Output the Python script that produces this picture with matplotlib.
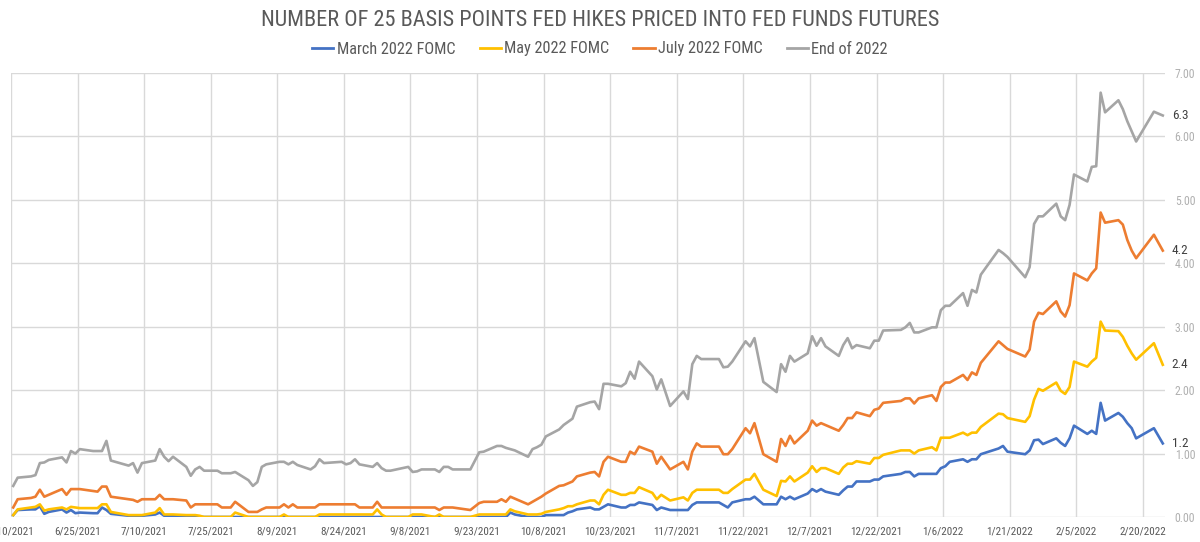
import matplotlib
matplotlib.use("Agg")
import matplotlib.pyplot as plt
from matplotlib import font_manager as fm
from matplotlib.lines import Line2D
import pandas as pd

# ---------------- data ----------------
dates = [
    "2021-06-10", "2021-06-11", "2021-06-14", "2021-06-15", "2021-06-16", "2021-06-17", "2021-06-18",
    "2021-06-21", "2021-06-22", "2021-06-23", "2021-06-24", "2021-06-25", "2021-06-28", "2021-06-29",
    "2021-06-30", "2021-07-01", "2021-07-02", "2021-07-06", "2021-07-07", "2021-07-08", "2021-07-09",
    "2021-07-12", "2021-07-13", "2021-07-14", "2021-07-15", "2021-07-16", "2021-07-19", "2021-07-20",
    "2021-07-21", "2021-07-22", "2021-07-23", "2021-07-26", "2021-07-27", "2021-07-29", "2021-07-30",
    "2021-08-02", "2021-08-03", "2021-08-04", "2021-08-05", "2021-08-06", "2021-08-09", "2021-08-10",
    "2021-08-11", "2021-08-12", "2021-08-13", "2021-08-16", "2021-08-17", "2021-08-18", "2021-08-19",
    "2021-08-23", "2021-08-24", "2021-08-25", "2021-08-26", "2021-08-27", "2021-08-30", "2021-08-31",
    "2021-09-01", "2021-09-02", "2021-09-03", "2021-09-07", "2021-09-08", "2021-09-09", "2021-09-10",
    "2021-09-13", "2021-09-14", "2021-09-15", "2021-09-16", "2021-09-17", "2021-09-21", "2021-09-23",
    "2021-09-24", "2021-09-27", "2021-09-28", "2021-09-29", "2021-09-30", "2021-10-01", "2021-10-04",
    "2021-10-05", "2021-10-06", "2021-10-07", "2021-10-08", "2021-10-11", "2021-10-12", "2021-10-13",
    "2021-10-14", "2021-10-15", "2021-10-18", "2021-10-19", "2021-10-20", "2021-10-21", "2021-10-22",
    "2021-10-25", "2021-10-26", "2021-10-27", "2021-10-28", "2021-10-29", "2021-11-01", "2021-11-02",
    "2021-11-03", "2021-11-05", "2021-11-08", "2021-11-09", "2021-11-10", "2021-11-11", "2021-11-12",
    "2021-11-16", "2021-11-17", "2021-11-18", "2021-11-19", "2021-11-22", "2021-11-23", "2021-11-24",
    "2021-11-26", "2021-11-29", "2021-11-30", "2021-12-01", "2021-12-02", "2021-12-03", "2021-12-06",
    "2021-12-07", "2021-12-08", "2021-12-09", "2021-12-10", "2021-12-13", "2021-12-14", "2021-12-15",
    "2021-12-16", "2021-12-17", "2021-12-20", "2021-12-21", "2021-12-22", "2021-12-23", "2021-12-27",
    "2021-12-28", "2021-12-29", "2021-12-30", "2021-12-31", "2022-01-03", "2022-01-04", "2022-01-05",
    "2022-01-06", "2022-01-07", "2022-01-10", "2022-01-11", "2022-01-12", "2022-01-13", "2022-01-14",
    "2022-01-18", "2022-01-19", "2022-01-20", "2022-01-24", "2022-01-25", "2022-01-26", "2022-01-27",
    "2022-01-28", "2022-01-31", "2022-02-01", "2022-02-02", "2022-02-03", "2022-02-04", "2022-02-07",
    "2022-02-08", "2022-02-09", "2022-02-10", "2022-02-11", "2022-02-14", "2022-02-15", "2022-02-16",
    "2022-02-17", "2022-02-18", "2022-02-22", "2022-02-24",
]

march_2022 = [
    0.03, 0.11, 0.12, 0.12, 0.17, 0.05, 0.08, 0.12, 0.07, 0.11, 0.06, 0.07, 0.06, 0.06,
    0.15, 0.11, 0.05, 0.02, 0.02, 0.00, 0.02, 0.04, 0.07, 0.02, 0.02, 0.02, 0.00, 0.00,
    0.00, 0.00, 0.00, 0.00, 0.00, 0.00, 0.00, 0.00, 0.00, 0.00, 0.00, 0.00, 0.00, 0.00,
    0.00, 0.00, 0.00, 0.00, 0.00, 0.00, 0.00, 0.00, 0.00, 0.00, 0.00, 0.00, 0.00, 0.00,
    0.00, 0.00, 0.00, 0.00, 0.00, 0.00, 0.00, 0.00, 0.00, 0.00, 0.00, 0.00, 0.00, 0.00,
    0.00, 0.00, 0.00, 0.00, 0.07, 0.04, 0.00, 0.00, 0.00, 0.00, 0.03, 0.03, 0.03, 0.07,
    0.09, 0.12, 0.15, 0.12, 0.12, 0.16, 0.20, 0.15, 0.15, 0.19, 0.19, 0.23, 0.19, 0.11,
    0.15, 0.11, 0.11, 0.11, 0.19, 0.23, 0.23, 0.23, 0.19, 0.15, 0.23, 0.28, 0.28, 0.32,
    0.20, 0.20, 0.32, 0.28, 0.32, 0.28, 0.37, 0.44, 0.40, 0.44, 0.40, 0.35, 0.42, 0.48,
    0.48, 0.56, 0.56, 0.59, 0.59, 0.64, 0.68, 0.71, 0.71, 0.64, 0.68, 0.68, 0.68, 0.77,
    0.80, 0.87, 0.91, 0.87, 0.91, 0.91, 0.99, 1.08, 1.12, 1.03, 0.99, 1.05, 1.21, 1.22,
    1.15, 1.24, 1.17, 1.12, 1.24, 1.44, 1.31, 1.36, 1.31, 1.80, 1.52, 1.64, 1.58, 1.48,
    1.40, 1.24, 1.40, 1.16,
]

may_2022 = [
    0.03, 0.12, 0.15, 0.16, 0.20, 0.10, 0.12, 0.15, 0.12, 0.16, 0.15, 0.14, 0.14, 0.14,
    0.20, 0.20, 0.08, 0.03, 0.03, 0.03, 0.03, 0.07, 0.14, 0.04, 0.04, 0.04, 0.03, 0.03,
    0.03, 0.02, 0.00, 0.00, 0.00, 0.00, 0.07, 0.00, 0.00, 0.00, 0.00, 0.00, 0.00, 0.04,
    0.00, 0.00, 0.00, 0.00, 0.00, 0.04, 0.04, 0.04, 0.04, 0.04, 0.04, 0.04, 0.04, 0.12,
    0.04, 0.00, 0.00, 0.00, 0.04, 0.04, 0.04, 0.00, 0.04, 0.00, 0.00, 0.00, 0.00, 0.04,
    0.04, 0.04, 0.04, 0.04, 0.12, 0.09, 0.04, 0.04, 0.04, 0.05, 0.08, 0.12, 0.14, 0.17,
    0.17, 0.20, 0.26, 0.26, 0.20, 0.35, 0.43, 0.35, 0.35, 0.38, 0.38, 0.47, 0.38, 0.28,
    0.35, 0.26, 0.31, 0.26, 0.38, 0.43, 0.43, 0.43, 0.38, 0.38, 0.44, 0.59, 0.59, 0.68,
    0.43, 0.33, 0.57, 0.56, 0.64, 0.56, 0.70, 0.80, 0.71, 0.77, 0.77, 0.68, 0.78, 0.84,
    0.84, 0.88, 0.84, 0.93, 0.93, 0.98, 1.05, 1.05, 1.05, 1.00, 1.05, 1.10, 1.05, 1.25,
    1.25, 1.25, 1.33, 1.29, 1.33, 1.33, 1.42, 1.63, 1.62, 1.56, 1.50, 1.59, 1.85, 2.02,
    1.99, 2.12, 1.99, 1.94, 2.05, 2.45, 2.37, 2.45, 2.51, 3.08, 2.94, 2.93, 2.84, 2.70,
    2.58, 2.48, 2.74, 2.40,
]

july_2022 = [
    0.15, 0.28, 0.30, 0.32, 0.43, 0.32, 0.35, 0.44, 0.35, 0.44, 0.44, 0.44, 0.41, 0.40,
    0.48, 0.48, 0.32, 0.28, 0.27, 0.24, 0.28, 0.28, 0.35, 0.28, 0.28, 0.28, 0.26, 0.15,
    0.20, 0.20, 0.20, 0.20, 0.15, 0.15, 0.24, 0.08, 0.08, 0.08, 0.12, 0.15, 0.15, 0.20,
    0.15, 0.20, 0.15, 0.15, 0.15, 0.20, 0.20, 0.20, 0.20, 0.20, 0.20, 0.15, 0.15, 0.24,
    0.15, 0.15, 0.15, 0.15, 0.15, 0.15, 0.15, 0.15, 0.11, 0.15, 0.15, 0.15, 0.11, 0.22,
    0.24, 0.24, 0.28, 0.24, 0.32, 0.29, 0.20, 0.24, 0.28, 0.32, 0.37, 0.49, 0.50, 0.53,
    0.56, 0.64, 0.70, 0.71, 0.64, 0.87, 0.95, 0.87, 0.87, 1.03, 0.99, 1.11, 1.03, 0.84,
    0.95, 0.75, 0.87, 0.75, 1.03, 1.16, 1.11, 1.11, 0.99, 0.99, 1.07, 1.40, 1.32, 1.48,
    0.99, 0.87, 1.23, 1.12, 1.28, 1.16, 1.36, 1.52, 1.44, 1.48, 1.45, 1.36, 1.45, 1.56,
    1.56, 1.65, 1.59, 1.69, 1.71, 1.80, 1.83, 1.87, 1.87, 1.79, 1.87, 1.92, 1.83, 2.05,
    2.12, 2.12, 2.24, 2.16, 2.28, 2.24, 2.43, 2.77, 2.71, 2.65, 2.53, 2.64, 3.08, 3.22,
    3.20, 3.40, 3.24, 3.16, 3.34, 3.84, 3.73, 3.84, 3.92, 4.80, 4.64, 4.68, 4.61, 4.37,
    4.20, 4.08, 4.45, 4.20,
]

end_2022 = [
    0.49, 0.62, 0.64, 0.66, 0.85, 0.86, 0.90, 0.94, 0.86, 1.04, 1.00, 1.07, 1.04, 1.04,
    1.04, 1.20, 0.89, 0.81, 0.85, 0.70, 0.85, 0.89, 1.07, 0.95, 0.88, 0.95, 0.79, 0.65,
    0.75, 0.79, 0.73, 0.73, 0.69, 0.69, 0.71, 0.58, 0.49, 0.55, 0.79, 0.83, 0.87, 0.87,
    0.83, 0.87, 0.82, 0.75, 0.80, 0.91, 0.85, 0.87, 0.83, 0.85, 0.91, 0.83, 0.79, 0.85,
    0.77, 0.73, 0.73, 0.79, 0.71, 0.72, 0.75, 0.75, 0.71, 0.79, 0.79, 0.75, 0.75, 1.02,
    1.03, 1.12, 1.12, 1.09, 1.07, 1.05, 0.95, 1.07, 1.10, 1.14, 1.27, 1.38, 1.45, 1.50,
    1.55, 1.74, 1.81, 1.82, 1.70, 2.10, 2.10, 2.06, 2.11, 2.29, 2.18, 2.45, 2.22, 2.01,
    2.17, 1.75, 1.98, 1.86, 2.41, 2.54, 2.49, 2.49, 2.36, 2.37, 2.45, 2.77, 2.69, 2.82,
    2.13, 1.97, 2.41, 2.29, 2.54, 2.45, 2.58, 2.85, 2.70, 2.82, 2.69, 2.54, 2.71, 2.82,
    2.66, 2.71, 2.66, 2.78, 2.78, 2.94, 2.95, 2.99, 3.06, 2.91, 2.91, 2.99, 2.99, 3.26,
    3.33, 3.33, 3.53, 3.33, 3.58, 3.54, 3.82, 4.21, 4.16, 4.10, 3.78, 3.94, 4.62, 4.74,
    4.74, 4.94, 4.74, 4.68, 4.92, 5.40, 5.29, 5.52, 5.53, 6.69, 6.38, 6.57, 6.43, 6.24,
    6.08, 5.92, 6.39, 6.33,
]

series_labels = ["March 2022 FOMC", "May 2022 FOMC", "July 2022 FOMC", "End of 2022"]
series_colors = ["#4472C4", "#FFC000", "#ED7D31", "#A5A5A5"]
title = "NUMBER OF 25 BASIS POINTS FED HIKES PRICED INTO FED FUNDS FUTURES"
x_start, x_end = "2021-06-10", "2022-02-25"
y_ticks = [0, 1, 2, 3, 4, 5, 6, 7]

# ---------------- fonts ----------------
def find_font():
    prefs = ["RobotoCondensed-Regular", "LiberationSansNarrow-Regular", "DejaVuSansCondensed.ttf",
             "OpenSans_Condensed-Regular", "OpenSansCondensed"]
    files = [f.fname for f in fm.fontManager.ttflist]
    for p in prefs:
        for fn in files:
            if p in fn.split("/")[-1]:
                return fn
    return None

font_file = find_font()

def fp(size):
    if font_file:
        return fm.FontProperties(fname=font_file, size=size)
    return fm.FontProperties(family="DejaVu Sans", size=size)

# ---------------- plot ----------------
W, H = 1200, 542
fig = plt.figure(figsize=(W / 100, H / 100), dpi=100)
ax = fig.add_axes([11 / W, 25 / H, 1154 / W, 444 / H])

x = pd.to_datetime(dates) + pd.Timedelta(hours=12)
all_series = [march_2022, may_2022, july_2022, end_2022]
for vals, col, lab in zip(all_series, series_colors, series_labels):
    ax.plot(x, vals, color=col, lw=1.9, label=lab, solid_joinstyle="round", zorder=3)
    ax.annotate(f"{vals[-1]:.1f}", xy=(x[-1], vals[-1]), xytext=(6.5, 0),
                textcoords="offset points", va="center", ha="left",
                color="#404040", fontproperties=fp(9.5), annotation_clip=False)

ax.set_xlim(pd.Timestamp(x_start), pd.Timestamp(x_end))
ax.set_ylim(0, 7)
xt = pd.date_range(x_start, periods=18, freq="15D")
ax.set_xticks(xt)
ax.set_xticklabels([f"{t.month}/{t.day}/{t.year}" for t in xt])
ax.yaxis.tick_right()
ax.set_yticks(y_ticks)
ax.set_yticklabels([f"{v:.2f}" for v in y_ticks])

ax.grid(True, color="#D9D9D9", lw=1.0, zorder=0)
ax.set_axisbelow(True)
for s in ax.spines.values():
    s.set_visible(False)
ax.tick_params(axis="both", length=0)
ax.tick_params(axis="x", pad=7, colors="#595959")
ax.tick_params(axis="y", pad=7, colors="#B0B0B0")
for lbl in ax.get_xticklabels():
    lbl.set_fontproperties(fp(8))
for lbl in ax.get_yticklabels():
    lbl.set_fontproperties(fp(8.5))
    lbl.set_horizontalalignment("left")

fig.text(0.5, 1 - 20 / H, title, ha="center", va="center", color="#595959",
         fontproperties=fp(16))

handles = [Line2D([], [], color=c, lw=2.0) for c in series_colors]
leg = fig.legend(handles, series_labels, loc="center", bbox_to_anchor=(0.5, 1 - 49 / H),
                 ncol=4, frameon=False, prop=fp(11.7), handlelength=1.3,
                 handletextpad=0.2, columnspacing=1.5)
for t in leg.get_texts():
    t.set_color("#595959")

fig.savefig("out.png", dpi=100)
